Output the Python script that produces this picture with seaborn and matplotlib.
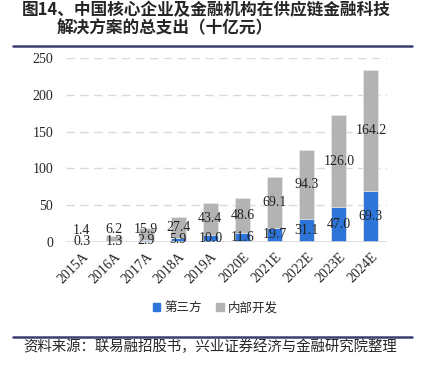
import matplotlib
matplotlib.use("Agg")
import matplotlib.pyplot as plt
import matplotlib.patches as mpatches
from matplotlib.lines import Line2D
import numpy as np
import pandas as pd
import seaborn as sns

years = ["2015A", "2016A", "2017A", "2018A", "2019A",
         "2020E", "2021E", "2022E", "2023E", "2024E"]
third_party = [0.3, 1.3, 2.9, 5.9, 10.0, 11.6, 19.7, 31.1, 47.0, 69.3]
in_house = [1.4, 6.2, 15.9, 27.4, 43.4, 48.6, 69.1, 94.3, 126.0, 164.2]
yticks = [0, 50, 100, 150, 200, 250]

blue = "#2e75d9"
gray = "#b3b3b3"
serif = ["Liberation Serif", "Noto Sans CJK SC"]
cjk = ["Noto Sans CJK SC", "DejaVu Sans"]

sns.set_style("white")
plt.rcParams["font.family"] = serif

df = pd.DataFrame({"year": years, "third": third_party, "inhouse": in_house})
df["total"] = df["third"] + df["inhouse"]

fig = plt.figure(figsize=(4.22, 3.66), dpi=100)
ax = fig.add_axes([0.156, 0.3388, 0.761, 0.5027])

sns.barplot(data=df, x="year", y="total", color=gray, width=0.47,
            edgecolor="#e6e6e6", linewidth=0.6, saturation=1, ax=ax, zorder=3)
sns.barplot(data=df, x="year", y="third", color=blue, width=0.47,
            edgecolor="#e6e6e6", linewidth=0.6, saturation=1, ax=ax, zorder=3)

# value labels (small in-house labels pushed up so they don't collide)
for i, (b, g) in enumerate(zip(third_party, in_house)):
    ax.text(i, b / 2, f"{b:.1f}", ha="center", va="center", fontsize=10,
            color="#222222", family=serif, zorder=5)
    ax.text(i, max(b + g / 2, b / 2 + 16), f"{g:.1f}", ha="center", va="center",
            fontsize=10, color="#222222", family=serif, zorder=5)

ax.set_ylim(0, 250)
ax.set_xlim(-0.5, len(years) - 0.5)
ax.set_yticks(yticks)
ax.set_yticklabels([str(v) for v in yticks], fontsize=10, family=serif)
ax.set_xticks(range(len(years)))
ax.set_xticklabels(years, rotation=45, ha="right", rotation_mode="anchor",
                   fontsize=10, family=serif)
ax.tick_params(axis="x", length=0, pad=6)
ax.tick_params(axis="y", length=0, pad=9)
ax.set_xlabel("")
ax.set_ylabel("")
for s in ax.spines.values():
    s.set_visible(False)
for v in yticks[1:]:
    ax.axhline(v, color="#d9d9d9", lw=1, ls=(0, (6, 4)), zorder=1)
ax.axhline(0, color="#d9d9d9", lw=1.2, zorder=4)

handles = [mpatches.Patch(color=blue, label="第三方"),
           mpatches.Patch(color=gray, label="内部开发")]
fig.legend(handles=handles, loc="center", bbox_to_anchor=(0.51, 0.158),
           ncol=2, frameon=False, prop={"family": cjk, "size": 9},
           handlelength=0.6, handleheight=0.6, handletextpad=0.3,
           columnspacing=1.2)

# title and source
fig.text(0.052, 0.972, "图14、中国核心企业及金融机构在供应链金融科技", fontsize=12,
         fontweight="bold", family=cjk, va="center", ha="left")
fig.text(0.135, 0.922, "解决方案的总支出（十亿元）", fontsize=12,
         fontweight="bold", family=cjk, va="center", ha="left")
fig.add_artist(Line2D([0.031, 0.976], [0.873, 0.873], color="#3b3f70", lw=1.8))
fig.add_artist(Line2D([0.031, 0.976], [0.079, 0.079], color="#3b3f70", lw=1.8))
fig.text(0.055, 0.052, "资料来源：联易融招股书，兴业证券经济与金融研究院整理",
         fontsize=10.4, family=cjk, va="center", ha="left")

fig.savefig("out.png", dpi=100)
